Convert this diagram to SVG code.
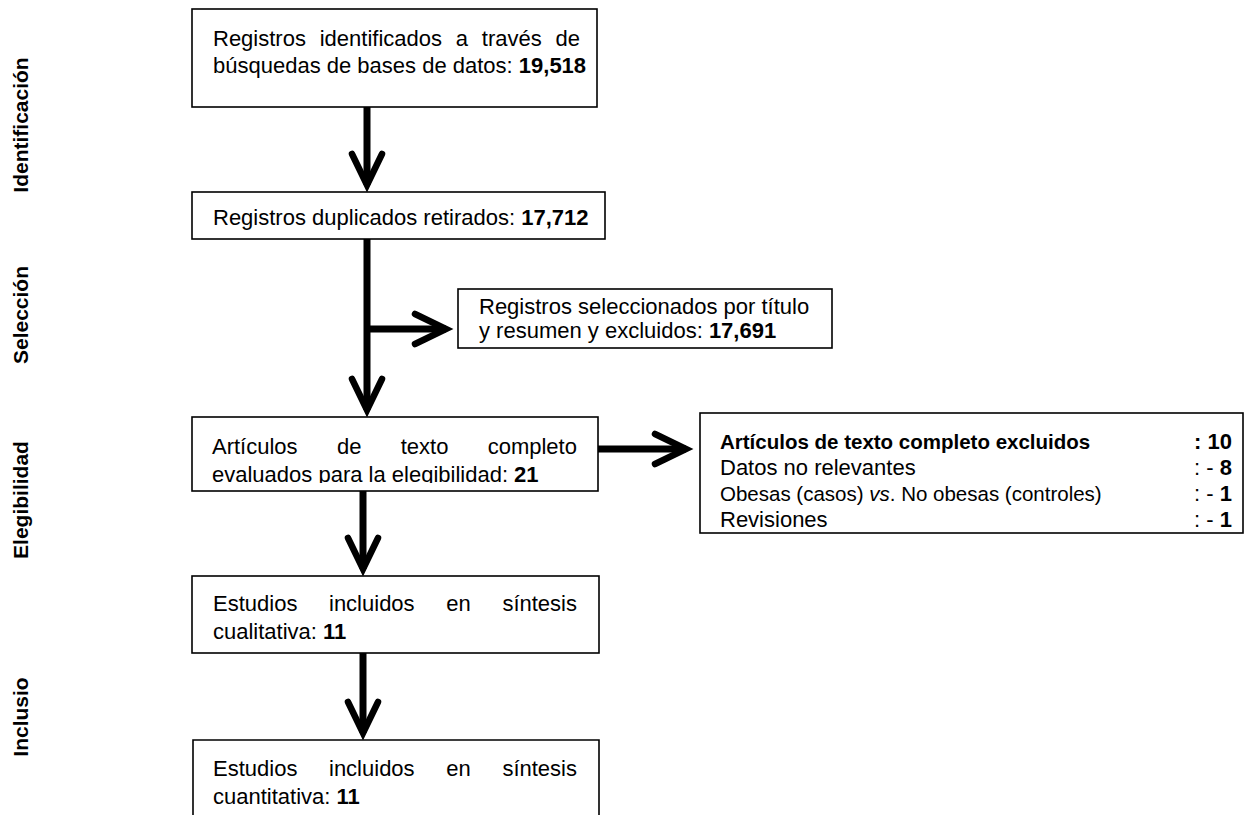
<svg xmlns="http://www.w3.org/2000/svg" width="1259" height="815" viewBox="0 0 1259 815">
<style>
  .box { fill: #ffffff; stroke: #000000; stroke-width: 1.6; }
  .t { font-family: "Liberation Sans", Arial, sans-serif; font-size: 22px; fill: #000000; }
  .s { font-size: 20.5px; }
  .b { font-weight: bold; }
  .i { font-style: italic; }
  .lbl { font-family: "Liberation Sans", Arial, sans-serif; font-size: 21px; font-weight: bold; fill: #000000; text-anchor: middle; }
  .conn { fill: none; stroke: #000000; stroke-width: 7; stroke-linecap: butt; }
</style>
<defs>
  <marker id="chev" markerUnits="userSpaceOnUse" orient="auto" refX="0" refY="0" markerWidth="60" markerHeight="60" overflow="visible">
    <path d="M -31 -15 L 0 0 L -31 15" fill="none" stroke="#000000" stroke-width="6.5" stroke-linecap="round" stroke-linejoin="miter"/>
  </marker>
  <clipPath id="clip4"><rect x="193" y="418" width="404" height="65"/></clipPath>
</defs>
<rect width="1259" height="815" fill="#ffffff"/>

<g id="stage-labels">
  <text class="lbl" transform="translate(28 125) rotate(-90)">Identificación</text>
  <text class="lbl" transform="translate(28 315) rotate(-90)">Selección</text>
  <text class="lbl" transform="translate(28 500) rotate(-90)">Elegibilidad</text>
  <text class="lbl" transform="translate(28 717) rotate(-90)">Inclusio</text>
</g>

<g id="connectors">
  <path class="conn" d="M 367 107 L 367 185" marker-end="url(#chev)"/>
  <path class="conn" d="M 367 239 L 367 410" marker-end="url(#chev)"/>
  <path class="conn" d="M 364 329 L 446 329" marker-end="url(#chev)"/>
  <path class="conn" d="M 598 449 L 686 449" marker-end="url(#chev)"/>
  <path class="conn" d="M 363 491 L 363 569" marker-end="url(#chev)"/>
  <path class="conn" d="M 363 653 L 363 733" marker-end="url(#chev)"/>
</g>

<g id="node-identificados">
  <rect class="box" x="192" y="9" width="405" height="98"/>
  <text class="t" y="46"><tspan x="213">Registros</tspan><tspan x="319.7">identificados</tspan><tspan x="455.8">a</tspan><tspan x="481.8">través</tspan><tspan x="555.5">de</tspan></text>
  <text class="t" x="213" y="73">búsquedas de bases de datos: <tspan class="b">19,518</tspan></text>
</g>

<g id="node-duplicados">
  <rect class="box" x="192" y="192" width="413" height="47"/>
  <text class="t" x="213" y="225">Registros duplicados retirados: <tspan class="b">17,712</tspan></text>
</g>

<g id="node-seleccionados">
  <rect class="box" x="458" y="289" width="374" height="59"/>
  <text class="t" x="479" y="314">Registros seleccionados por título</text>
  <text class="t" x="479" y="338">y resumen y excluidos: <tspan class="b">17,691</tspan></text>
</g>

<g id="node-evaluados">
  <rect class="box" x="192" y="417" width="406" height="74"/>
  <g clip-path="url(#clip4)">
    <text class="t" y="454"><tspan x="212">Artículos</tspan><tspan x="336.9">de</tspan><tspan x="400.7">texto</tspan><tspan x="487.7">completo</tspan></text>
    <text class="t" x="212" y="482">evaluados para la elegibilidad: <tspan class="b">21</tspan></text>
  </g>
</g>

<g id="node-excluidos">
  <rect class="box" x="700" y="413" width="543" height="120"/>
  <text class="t s b" x="720" y="449">Artículos de texto completo excluidos</text>
  <text class="t b" x="1232" y="449" text-anchor="end">: 10</text>
  <text class="t" x="720" y="475">Datos no relevantes</text>
  <text class="t" x="1232" y="475" text-anchor="end">: - <tspan class="b">8</tspan></text>
  <text class="t s" x="720" y="501">Obesas (casos) <tspan class="i">vs</tspan>. No obesas (controles)</text>
  <text class="t" x="1232" y="501" text-anchor="end">: - <tspan class="b">1</tspan></text>
  <text class="t" x="720" y="527">Revisiones</text>
  <text class="t" x="1232" y="527" text-anchor="end">: - <tspan class="b">1</tspan></text>
</g>

<g id="node-cualitativa">
  <rect class="box" x="192" y="576" width="407" height="77"/>
  <text class="t" y="611"><tspan x="213">Estudios</tspan><tspan x="329">incluidos</tspan><tspan x="446.2">en</tspan><tspan x="502.4">síntesis</tspan></text>
  <text class="t" x="213" y="639">cualitativa: <tspan class="b">11</tspan></text>
</g>

<g id="node-cuantitativa">
  <path class="box" d="M 193 817 L 193 740 L 599 740 L 599 817"/>
  <text class="t" y="776"><tspan x="213">Estudios</tspan><tspan x="329">incluidos</tspan><tspan x="446.2">en</tspan><tspan x="502.4">síntesis</tspan></text>
  <text class="t" x="213" y="804">cuantitativa: <tspan class="b">11</tspan></text>
</g>
</svg>
